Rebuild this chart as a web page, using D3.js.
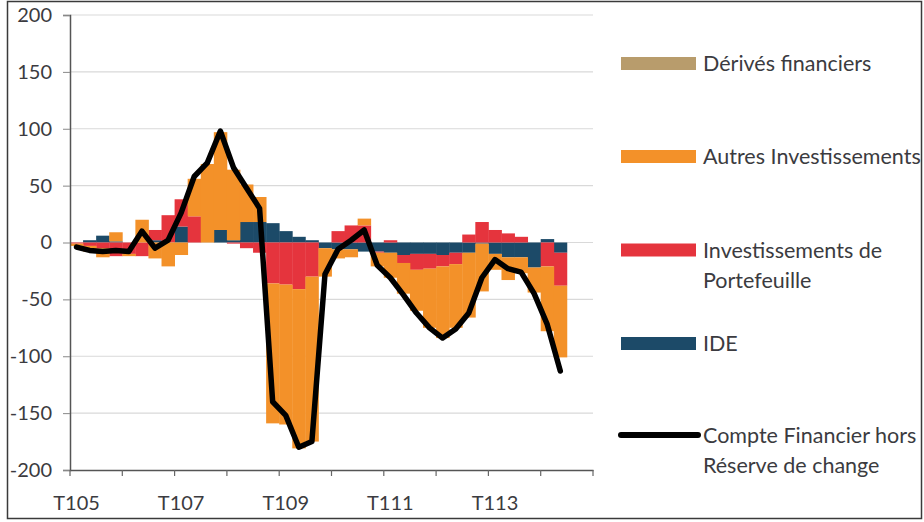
<!DOCTYPE html>
<html>
<head>
<meta charset="utf-8">
<script src="https://cdn.jsdelivr.net/npm/d3@7/dist/d3.min.js"></script>
<style>
  html, body { margin: 0; padding: 0; background: #ffffff; }
  svg { display: block; }
  text { font-family: Lato, "Open Sans", sans-serif; fill: #3b3b40; }
</style>
</head>
<body>
<svg id="chart" width="924" height="522"></svg>
<script>
// Quarters (T1 05 … T4 14); the last two have no data yet
const quarters = [
  "T105","T205","T305","T405","T106","T206","T306","T406",
  "T107","T207","T307","T407","T108","T208","T308","T408",
  "T109","T209","T309","T409","T110","T210","T310","T410",
  "T111","T211","T311","T411","T112","T212","T312","T412",
  "T113","T213","T313","T413","T114","T214","T314","T414"
];
const axisLabels = ["T105", "T107", "T109", "T111", "T113"];
const yTicks = [-200, -150, -100, -50, 0, 50, 100, 150, 200];

// Flows by component (Md€)
const ide = [
  0, 2, 6, 1, 0, 0, 2, 0, 14, 0, 0, 11, 2, 18, 18, 17, 10, 5, 2,
  -5, -6, -6, -8, -8, -9, -11, -10, -10, -11, -9, -9, -1, -10, -13, -13, -22, 3, -9
];
const portefeuille = [
  -1, -3, -5, -12, -10, -12, 9, 24, 24, 23, 0, 0, -1, -5, -9, -36, -37, -41, -30,
  0, 10, 15, 15, -1, 2, -7, -14, -13, -10, -10, 7, 18, 11, 8, 5, 0, -21, -29
];
const autres = [
  -2, -5, -8, 8, -2, 20, -14, -21, -11, 33, 69, 86, 62, 33, 22, -123, -123, -140, -145,
  -25, -8, -7, 6, -12, -22, -27, -36, -52, -63, -56, -57, -42, -14, -20, -14, -22, -57, -63
];
const derives = [
  0, 0, 0, 0, 0, 0, 0, 0, 0, 0, 0, 0, 0, 0, 0, 0, 0, 0, 0,
  0, 0, 0, 0, 0, 0, 0, 0, 0, 0, 0, 0, 0, 0, 0, 0, 0, 0, 0
];
// Financial account excluding reserve assets
const compteFinancier = [
  -4, -7, -8, -7, -8, 10, -5, 2, 26, 58, 70, 98, 66, 48, 30, -140, -152, -180, -175,
  -28, -6, 2, 11, -20, -31, -46, -62, -75, -84, -76, -62, -31, -15, -23, -26, -45, -72, -113
];

const seriesNames = ["IDE", "Investissements de Portefeuille", "Autres Investissements", "Dérivés financiers"];
const seriesColors = ["#1c4a68", "#e5343d", "#f39129", "#b89c6c"];

const rows = ide.map((v, i) => ({
  q: quarters[i],
  "IDE": v,
  "Investissements de Portefeuille": portefeuille[i],
  "Autres Investissements": autres[i],
  "Dérivés financiers": derives[i]
}));

const svg = d3.select("#chart");
const plot = { left: 70, right: 593, top: 15, bottom: 470 };

const x = d3.scaleBand().domain(quarters).range([plot.left, plot.right]).padding(0);
const y = d3.scaleLinear().domain([-200, 200]).range([plot.bottom, plot.top]);

// outer frame
svg.append("rect")
  .attr("x", 7.5).attr("y", 1.5).attr("width", 914).attr("height", 517)
  .attr("fill", "none").attr("stroke", "#3a3a3a").attr("stroke-width", 1.5);

// horizontal gridlines
svg.append("g")
  .selectAll("line")
  .data(yTicks.filter(d => d > -200))
  .join("line")
  .attr("x1", plot.left).attr("x2", plot.right)
  .attr("y1", d => y(d)).attr("y2", d => y(d))
  .attr("stroke", "#d9d9d9").attr("stroke-width", 1.2);

// stacked bars (positive above zero, negative below)
const stack = d3.stack().keys(seriesNames).offset(d3.stackOffsetDiverging);
const layers = stack(rows);

svg.append("g")
  .selectAll("g")
  .data(layers)
  .join("g")
  .attr("fill", (d, i) => seriesColors[i])
  .selectAll("rect")
  .data(d => d)
  .join("rect")
  .attr("x", d => x(d.data.q))
  .attr("width", x.bandwidth() + 0.4)
  .attr("y", d => y(Math.max(d[0], d[1])))
  .attr("height", d => Math.abs(y(d[0]) - y(d[1])));

// financial account line
const line = d3.line()
  .x((d, i) => x(quarters[i]) + x.bandwidth() / 2)
  .y(d => y(d));

svg.append("path")
  .datum(compteFinancier)
  .attr("d", line)
  .attr("fill", "none")
  .attr("stroke", "#000000")
  .attr("stroke-width", 5.5)
  .attr("stroke-linejoin", "round")
  .attr("stroke-linecap", "round");

// y axis
const yAxis = svg.append("g")
  .attr("transform", `translate(${plot.left},0)`)
  .call(d3.axisLeft(y).tickValues(yTicks).tickSize(7).tickPadding(11).tickFormat(d => String(d)));
yAxis.select(".domain").attr("stroke", "#555555").attr("stroke-width", 1.5);
yAxis.selectAll(".tick line").attr("stroke", "#888888");
yAxis.selectAll("text").attr("font-size", 20).attr("font-family", "Lato").attr("fill", "#3b3b40");

// x axis: labels at category centres, ticks at year boundaries
const xAxis = svg.append("g")
  .attr("transform", `translate(0,${plot.bottom})`)
  .call(d3.axisBottom(x).tickValues(axisLabels).tickSize(0).tickPadding(26));
xAxis.select(".domain").attr("stroke", "#555555").attr("stroke-width", 1.5);
xAxis.selectAll("text").attr("font-size", 20).attr("font-family", "Lato").attr("fill", "#3b3b40");

const yearStarts = quarters.filter((q, i) => i % 4 === 0).map(q => x(q)).concat([x.range()[1]]);
svg.append("g")
  .selectAll("line")
  .data(yearStarts)
  .join("line")
  .attr("x1", d => d).attr("x2", d => d)
  .attr("y1", plot.bottom).attr("y2", plot.bottom + 6)
  .attr("stroke", "#666666").attr("stroke-width", 1.2);

// legend
const legendItems = [
  { name: "Dérivés financiers", lines: ["Dérivés financiers"], color: seriesColors[3], cy: 63.5, kind: "box" },
  { name: "Autres Investissements", lines: ["Autres Investissements"], color: seriesColors[2], cy: 156.5, kind: "box" },
  { name: "Investissements de Portefeuille", lines: ["Investissements de", "Portefeuille"], color: seriesColors[1], cy: 250, kind: "box" },
  { name: "IDE", lines: ["IDE"], color: seriesColors[0], cy: 343.5, kind: "box" },
  { name: "Compte Financier hors Réserve de change", lines: ["Compte Financier hors", "Réserve de change"], color: "#000000", cy: 435, kind: "line" }
];

const legend = svg.append("g");
legendItems.forEach(item => {
  const g = legend.append("g");
  if (item.kind === "box") {
    g.append("rect")
      .attr("x", 621).attr("y", item.cy - 6.5)
      .attr("width", 75).attr("height", 13)
      .attr("fill", item.color);
  } else {
    g.append("line")
      .attr("x1", 621).attr("x2", 698)
      .attr("y1", item.cy).attr("y2", item.cy)
      .attr("stroke", item.color).attr("stroke-width", 6)
      .attr("stroke-linecap", "round");
  }
  g.append("text")
    .attr("x", 703)
    .attr("y", item.cy + 7.5)
    .attr("font-size", 21.5)
    .selectAll("tspan")
    .data(item.lines)
    .join("tspan")
    .attr("x", 703)
    .attr("dy", (d, i) => i === 0 ? 0 : 30.5)
    .text(d => d);
});
</script>
</body>
</html>
